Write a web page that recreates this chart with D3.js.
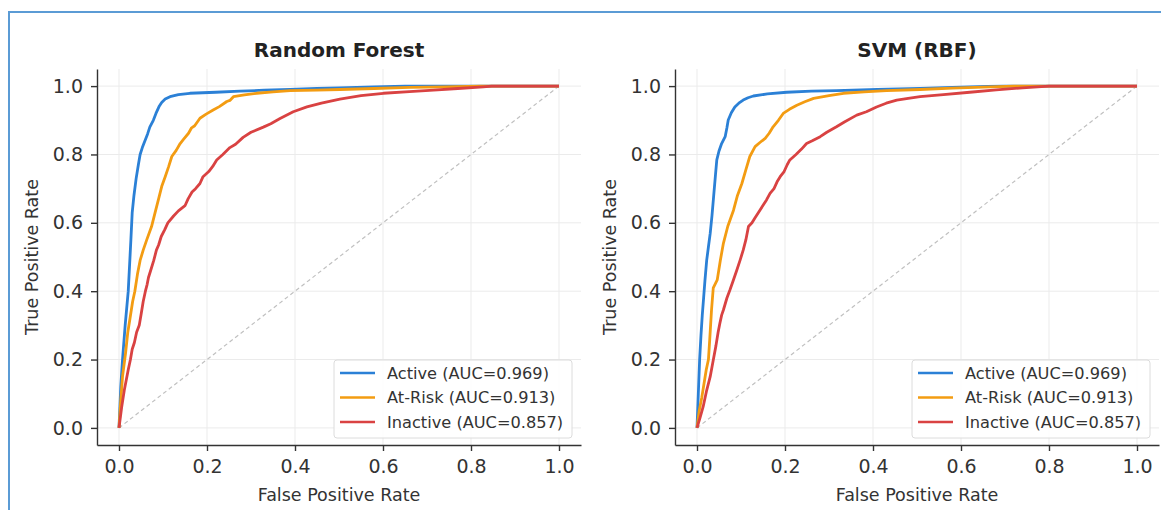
<!DOCTYPE html>
<html>
<head>
<meta charset="utf-8">
<script src="https://cdn.jsdelivr.net/npm/d3@7"></script>
<style>
  body { margin: 0; background: #fff; }
  svg { display: block; font-family: "DejaVu Sans", sans-serif; }
</style>
</head>
<body>
<div id="chart"></div>
<script>
'use strict'

// ROC points [fpr, tpr]
const rfActive = [[0,0],[0.004,0.12],[0.008,0.2],[0.014,0.3],[0.021,0.4],[0.027,0.55],[0.030,0.63],[0.034,0.68],[0.039,0.73],[0.044,0.77],[0.048,0.80],[0.053,0.82],[0.059,0.84],[0.065,0.86],[0.070,0.88],[0.078,0.90],[0.084,0.92],[0.091,0.94],[0.097,0.952],[0.105,0.962],[0.116,0.969],[0.135,0.975],[0.161,0.979],[0.22,0.982],[0.275,0.985],[0.33,0.988],[0.389,0.990],[0.45,0.993],[0.50,0.995],[0.58,0.998],[0.65,1.0],[1,1]];
const rfAtRisk = [[0,0],[0.004,0.08],[0.008,0.15],[0.015,0.22],[0.02,0.28],[0.025,0.32],[0.031,0.37],[0.036,0.40],[0.042,0.45],[0.048,0.49],[0.055,0.52],[0.063,0.55],[0.074,0.589],[0.082,0.63],[0.090,0.67],[0.097,0.706],[0.105,0.735],[0.113,0.765],[0.120,0.794],[0.130,0.812],[0.139,0.832],[0.147,0.845],[0.158,0.862],[0.165,0.878],[0.172,0.884],[0.184,0.906],[0.198,0.918],[0.214,0.930],[0.228,0.94],[0.245,0.955],[0.252,0.958],[0.260,0.969],[0.285,0.974],[0.313,0.979],[0.35,0.983],[0.389,0.987],[0.45,0.988],[0.502,0.990],[0.58,0.993],[0.66,0.996],[0.74,0.998],[0.82,1.0],[1,1]];
const rfInactive = [[0,0],[0.006,0.06],[0.012,0.11],[0.021,0.17],[0.026,0.2],[0.030,0.23],[0.035,0.25],[0.040,0.28],[0.046,0.30],[0.050,0.33],[0.055,0.37],[0.060,0.40],[0.064,0.42],[0.067,0.44],[0.073,0.465],[0.079,0.49],[0.085,0.52],[0.090,0.535],[0.096,0.56],[0.104,0.58],[0.111,0.60],[0.124,0.62],[0.135,0.635],[0.150,0.65],[0.157,0.67],[0.166,0.69],[0.174,0.70],[0.184,0.715],[0.191,0.735],[0.204,0.75],[0.213,0.765],[0.222,0.784],[0.236,0.80],[0.252,0.82],[0.265,0.83],[0.282,0.85],[0.30,0.865],[0.328,0.88],[0.345,0.89],[0.366,0.905],[0.396,0.925],[0.427,0.939],[0.46,0.95],[0.502,0.962],[0.55,0.972],[0.601,0.979],[0.66,0.984],[0.715,0.988],[0.77,0.993],[0.828,0.998],[0.847,1.0],[1,1]];

const svmActive = [[0,0],[0.003,0.1],[0.006,0.2],[0.009,0.27],[0.012,0.33],[0.015,0.38],[0.018,0.43],[0.022,0.49],[0.026,0.53],[0.030,0.569],[0.034,0.62],[0.038,0.68],[0.042,0.74],[0.045,0.784],[0.050,0.81],[0.056,0.832],[0.064,0.852],[0.068,0.878],[0.071,0.901],[0.078,0.922],[0.086,0.939],[0.095,0.950],[0.105,0.959],[0.116,0.966],[0.128,0.971],[0.16,0.977],[0.204,0.982],[0.26,0.985],[0.317,0.987],[0.41,0.990],[0.507,0.993],[0.58,0.996],[0.66,0.999],[0.7,1.0],[1,1]];
const svmAtRisk = [[0,0],[0.005,0.05],[0.011,0.09],[0.016,0.13],[0.021,0.17],[0.026,0.2],[0.029,0.26],[0.033,0.345],[0.037,0.41],[0.046,0.433],[0.053,0.49],[0.060,0.54],[0.070,0.59],[0.083,0.637],[0.092,0.68],[0.102,0.715],[0.111,0.755],[0.120,0.794],[0.132,0.823],[0.143,0.835],[0.155,0.847],[0.164,0.862],[0.173,0.881],[0.185,0.90],[0.196,0.920],[0.21,0.932],[0.227,0.944],[0.245,0.954],[0.265,0.964],[0.30,0.972],[0.333,0.979],[0.38,0.983],[0.431,0.987],[0.507,0.990],[0.58,0.994],[0.65,0.997],[0.72,1.0],[1,1]];
const svmInactive = [[0,0],[0.007,0.03],[0.014,0.062],[0.022,0.11],[0.030,0.15],[0.037,0.199],[0.043,0.24],[0.048,0.28],[0.052,0.306],[0.056,0.33],[0.060,0.345],[0.068,0.38],[0.075,0.404],[0.082,0.43],[0.090,0.46],[0.098,0.491],[0.105,0.52],[0.111,0.55],[0.117,0.589],[0.125,0.60],[0.132,0.615],[0.143,0.637],[0.152,0.655],[0.158,0.667],[0.166,0.686],[0.175,0.70],[0.182,0.72],[0.189,0.735],[0.198,0.75],[0.205,0.77],[0.211,0.784],[0.225,0.80],[0.237,0.815],[0.249,0.832],[0.262,0.84],[0.28,0.852],[0.295,0.865],[0.317,0.881],[0.335,0.895],[0.363,0.915],[0.385,0.925],[0.408,0.939],[0.43,0.95],[0.454,0.959],[0.48,0.964],[0.507,0.969],[0.56,0.975],[0.62,0.982],[0.68,0.989],[0.74,0.995],[0.8,1.0],[1,1]];

const classNames = ['Active', 'At-Risk', 'Inactive'];
const aucValues = ['0.969', '0.913', '0.857'];
const ticks = [0, 0.2, 0.4, 0.6, 0.8, 1.0];
const colors = ['#2b80d6', '#f39c12', '#d94242'];

const width = 1161;
const height = 510;

const svg = d3.select('#chart')
    .append('svg')
    .attr('width', width)
    .attr('height', height);

// blue frame around the figure
svg.append('rect')
    .attr('x', 9).attr('y', 12)
    .attr('width', 1170).attr('height', 520)
    .attr('fill', 'none')
    .attr('stroke', '#5b9bd5')
    .attr('stroke-width', 2);

function drawPanel(left, title, curves) {
    const x = d3.scaleLinear().domain([-0.05, 1.05]).range([left, left + 484]);
    const y = d3.scaleLinear().domain([-0.05, 1.05]).range([445, 69]);
    const g = svg.append('g');

    // grid
    g.selectAll('.vgrid').data(ticks).enter().append('line')
        .attr('x1', d => x(d)).attr('x2', d => x(d))
        .attr('y1', y.range()[0]).attr('y2', y.range()[1])
        .attr('stroke', '#ebebeb').attr('stroke-width', 1);
    g.selectAll('.hgrid').data(ticks).enter().append('line')
        .attr('y1', d => y(d)).attr('y2', d => y(d))
        .attr('x1', x.range()[0]).attr('x2', x.range()[1])
        .attr('stroke', '#ebebeb').attr('stroke-width', 1);

    // chance line
    g.append('line')
        .attr('x1', x(0)).attr('y1', y(0))
        .attr('x2', x(1)).attr('y2', y(1))
        .attr('stroke', '#c0c0c0').attr('stroke-width', 1.2)
        .attr('stroke-dasharray', '4,3');

    const line = d3.line().x(d => x(d[0])).y(d => y(d[1]));
    curves.forEach((c, i) => {
        g.append('path')
            .datum(c)
            .attr('d', line)
            .attr('fill', 'none')
            .attr('stroke', colors[i])
            .attr('stroke-width', 2.8)
            .attr('stroke-linejoin', 'round');
    });

    // axes
    const xAxis = g.append('g')
        .attr('transform', `translate(0,${y.range()[0]})`)
        .call(d3.axisBottom(x).tickValues(ticks).tickFormat(d3.format('.1f'))
            .tickSizeInner(6).tickSizeOuter(0).tickPadding(9));
    const yAxis = g.append('g')
        .attr('transform', `translate(${x.range()[0]},0)`)
        .call(d3.axisLeft(y).tickValues(ticks).tickFormat(d3.format('.1f'))
            .tickSizeInner(6).tickSizeOuter(0).tickPadding(8));
    [xAxis, yAxis].forEach(a => {
        a.selectAll('path, line').attr('stroke', '#333').attr('stroke-width', 1.4);
        a.selectAll('text').attr('font-size', 19).attr('fill', '#333')
            .attr('font-family', '"DejaVu Sans", sans-serif');
    });

    // labels
    const cx = (x.range()[0] + x.range()[1]) / 2;
    g.append('text')
        .attr('x', cx).attr('y', 57)
        .attr('text-anchor', 'middle')
        .attr('font-size', 20).attr('font-weight', 'bold').attr('fill', '#222')
        .text(title);
    g.append('text')
        .attr('x', cx).attr('y', 501)
        .attr('text-anchor', 'middle')
        .attr('font-size', 17.5).attr('fill', '#333')
        .text('False Positive Rate');
    g.append('text')
        .attr('transform', `translate(${left - 59},${(y.range()[0] + y.range()[1]) / 2}) rotate(-90)`)
        .attr('text-anchor', 'middle')
        .attr('font-size', 17.5).attr('fill', '#333')
        .text('True Positive Rate');

    // legend
    const lx = x.range()[1] - 9 - 238;
    const ly = y.range()[0] - 7 - 78;
    const legend = g.append('g').attr('transform', `translate(${lx},${ly})`);
    legend.append('rect')
        .attr('width', 238).attr('height', 78).attr('rx', 3)
        .attr('fill', 'rgba(255,255,255,0.85)')
        .attr('stroke', '#dcdcdc');
    classNames.forEach((name, i) => {
        const ry = 13 + i * 24.5;
        legend.append('line')
            .attr('x1', 6).attr('x2', 41)
            .attr('y1', ry).attr('y2', ry)
            .attr('stroke', colors[i]).attr('stroke-width', 2.6);
        legend.append('text')
            .attr('x', 53).attr('y', ry).attr('dy', '0.36em')
            .attr('font-size', 16.2).attr('fill', '#333')
            .text(`${name} (AUC=${aucValues[i]})`);
    });
}

drawPanel(97, 'Random Forest', [rfActive, rfAtRisk, rfInactive]);
drawPanel(675, 'SVM (RBF)', [svmActive, svmAtRisk, svmInactive]);
</script>
</body>
</html>
